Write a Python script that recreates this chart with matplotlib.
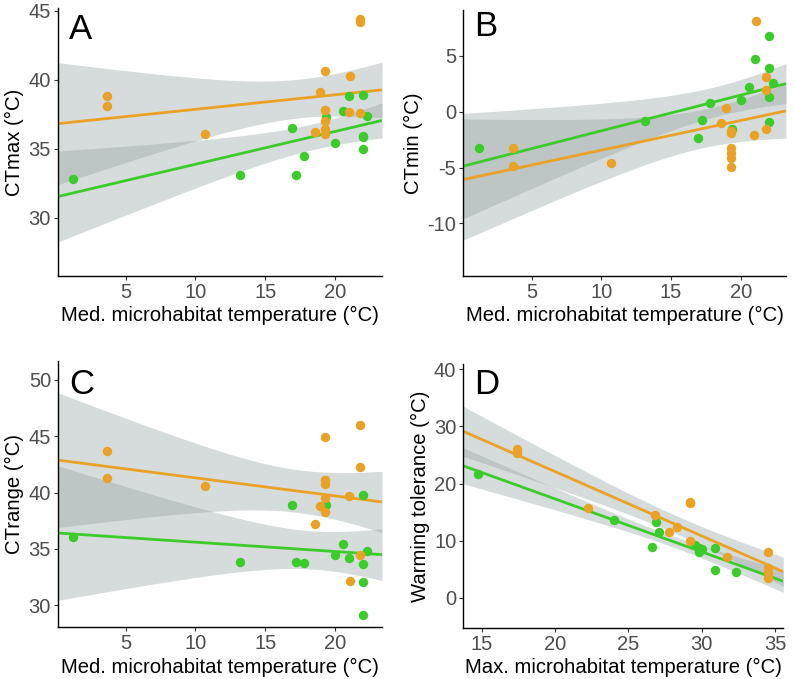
import math
import matplotlib
matplotlib.use("Agg")
import matplotlib.pyplot as plt
import numpy as np

plt.rcParams['font.family'] = ['Liberation Sans', 'DejaVu Sans']
plt.rcParams['axes.unicode_minus'] = False

ORANGE = '#E9A225'
GREEN = '#3BCB2A'
BAND = '#9AA5A5'

# median microhabitat temperature, shared by panels A-C
med_orange = [3.64, 3.64, 10.69, 18.58, 18.94, 19.3, 19.3, 19.3, 19.3, 19.3, 19.3,
              20.97, 21.09, 21.81, 21.81, 21.81]
ctmax_orange = [38.83, 38.1, 36.04, 36.24, 39.08, 40.66, 37.82, 37.02, 36.41, 36.05, 37.8,
                37.67, 40.29, 44.4, 44.2, 37.55]
ctmin_orange = [-4.84, -3.22, -4.57, -0.98, 0.30, -4.18, -1.73, -3.73, -1.9, -4.98, -3.28,
                -2.09, 8.15, -1.55, 1.94, 3.14]
ctrange_orange = [43.69, 41.33, 40.59, 37.25, 38.81, 44.94, 39.56, 40.74, 38.28, 41.09, 41.08,
                  39.7, 32.15, 45.98, 42.31, 34.46]

med_green = [1.2, 13.16, 16.95, 17.2, 17.81, 19.35, 20.01, 20.61, 21.04, 22.0, 22.0, 22.0,
             22.0, 22.33]
ctmax_green = [32.77, 33.06, 36.53, 33.08, 34.47, 37.26, 35.39, 37.7, 38.84, 38.91, 35.92,
               35.85, 35.0, 37.34]
ctmin_green = [-3.22, -0.8, -2.38, -0.74, 0.75, -1.58, 1.05, 2.24, 4.69, -0.9, 3.89, 6.78,
               1.34, 2.54]
ctrange_green = [36.06, 33.82, 38.87, 33.84, 33.72, 38.87, 34.43, 35.47, 34.16, 39.79, 32.1,
                 29.1, 33.69, 34.81]

# max microhabitat temperature vs warming tolerance (panel D)
max_orange = [17.39, 17.39, 22.27, 26.82, 27.8, 28.3, 29.21, 29.21, 29.21, 31.71, 34.55,
              34.55, 34.55, 34.55]
wt_orange = [26.05, 25.3, 15.68, 14.51, 11.59, 12.36, 16.85, 16.6, 10.0, 7.22, 8.1, 5.19,
             4.32, 3.5]
max_green = [14.77, 24.05, 26.89, 27.07, 26.64, 29.55, 29.84, 30.0, 29.84, 30.91, 30.91, 32.33]
wt_green = [21.68, 13.64, 13.34, 11.59, 8.97, 9.2, 8.69, 8.6, 8.1, 8.8, 4.9, 4.49]


def t975(df):
    # 97.5% quantile of Student t, from a numerically integrated pdf
    xs = np.linspace(0, 12, 24001)
    c = math.exp(math.lgamma((df + 1) / 2) - math.lgamma(df / 2)) / math.sqrt(df * math.pi)
    pdf = c * (1 + xs ** 2 / df) ** (-(df + 1) / 2)
    cdf = 0.5 + np.concatenate([[0], np.cumsum((pdf[1:] + pdf[:-1]) / 2 * np.diff(xs))])
    return np.interp(0.975, cdf, xs)


def lm_band(x, y, xg):
    x = np.asarray(x, float)
    y = np.asarray(y, float)
    n = len(x)
    b, a = np.polyfit(x, y, 1)
    s = np.sqrt(np.sum((y - (a + b * x)) ** 2) / (n - 2))
    se = s * np.sqrt(1 / n + (xg - x.mean()) ** 2 / np.sum((x - x.mean()) ** 2))
    fit = a + b * xg
    t = t975(n - 2)
    return fit, fit - t * se, fit + t * se


panels = [
    dict(rect=[0.0731, 0.5935, 0.4086, 0.3947], letter='A', ly=0.981, xlim=(0.14, 23.37),
         ylim=(25.76, 45.2), yticks=[30, 35, 40, 45], xticks=[5, 10, 15, 20],
         ylabel='CTmax (°C)', xlabel='Med. microhabitat temperature (°C)',
         g=(med_green, ctmax_green), o=(med_orange, ctmax_orange)),
    dict(rect=[0.5842, 0.5935, 0.4069, 0.3918], letter='B', ly=1.0, xlim=(0.1, 23.25),
         ylim=(-14.72, 9.12), yticks=[-10, -5, 0, 5], xticks=[5, 10, 15, 20],
         ylabel='CTmin (°C)', xlabel='Med. microhabitat temperature (°C)',
         g=(med_green, ctmin_green), o=(med_orange, ctmin_orange)),
    dict(rect=[0.0731, 0.0761, 0.4086, 0.3926], letter='C', ly=0.974, xlim=(0.14, 23.37),
         ylim=(28.05, 51.7), yticks=[30, 35, 40, 45, 50], xticks=[5, 10, 15, 20],
         ylabel='CTrange (°C)', xlabel='Med. microhabitat temperature (°C)',
         g=(med_green, ctrange_green), o=(med_orange, ctrange_orange)),
    dict(rect=[0.5842, 0.0747, 0.4035, 0.3892], letter='D', ly=0.985, xlim=(13.74, 35.57),
         ylim=(-5.3, 40.9), yticks=[0, 10, 20, 30, 40], xticks=[15, 20, 25, 30, 35],
         ylabel='Warming tolerance (°C)', xlabel='Max. microhabitat temperature (°C)',
         g=(max_green, wt_green), o=(max_orange, wt_orange)),
]

fig = plt.figure(figsize=(7.93, 6.79), dpi=100)

for p in panels:
    ax = fig.add_axes(p['rect'])
    xg = np.linspace(p['xlim'][0], p['xlim'][1], 200)
    groups = [(p['g'], GREEN), (p['o'], ORANGE)]
    for (x, y), col in groups:
        fit, lo, hi = lm_band(x, y, xg)
        ax.fill_between(xg, lo, hi, color=BAND, alpha=0.4, lw=0, zorder=1)
    for (x, y), col in groups:
        fit, lo, hi = lm_band(x, y, xg)
        ax.plot(xg, fit, color=col, lw=2, zorder=2, solid_capstyle='butt')
    for (x, y), col in groups:
        ax.scatter(x, y, s=46, color=col, lw=0, zorder=3)

    ax.set_xlim(p['xlim'])
    ax.set_ylim(p['ylim'])
    ax.set_xticks(p['xticks'])
    ax.set_yticks(p['yticks'])
    ax.spines['top'].set_visible(False)
    ax.spines['right'].set_visible(False)
    for s in ['left', 'bottom']:
        ax.spines[s].set_linewidth(1.0)
    ax.tick_params(length=3, width=0.8, color='#333333', pad=2, labelsize=14.5,
                   labelcolor='#4D4D4D')
    ax.set_xlabel(p['xlabel'], fontsize=14.6, labelpad=3)
    ax.set_ylabel(p['ylabel'], fontsize=14.6, labelpad=3)
    ax.text(0.035, p['ly'], p['letter'], transform=ax.transAxes, fontsize=25,
            ha='left', va='top')

fig.savefig('out.png', dpi=100)
